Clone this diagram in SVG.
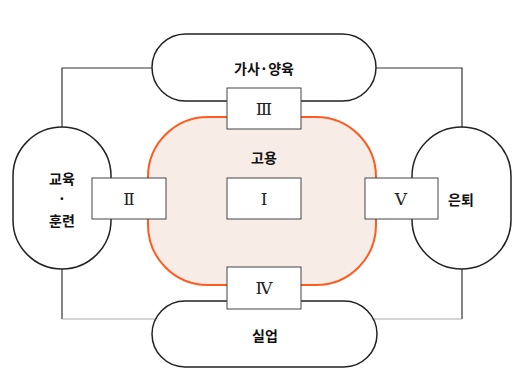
<svg xmlns="http://www.w3.org/2000/svg" width="526" height="389" viewBox="0 0 526 389">
<style>
.st{fill:#fff;stroke:#222;stroke-width:1.5}
.bx{fill:#fff;stroke:#444;stroke-width:1}
.ln{fill:none;stroke:#333;stroke-width:1.2}
.lg{fill:none;stroke:#aaa;stroke-width:1.2}
.kt{font-family:"Noto Sans CJK KR","Noto Sans",sans-serif;font-size:14px;font-weight:bold;fill:#111;text-anchor:middle;dominant-baseline:central}
.rn{font-family:"DejaVu Serif","Liberation Serif",serif;font-size:17px;fill:#222;text-anchor:middle;dominant-baseline:central}
</style>
<rect width="526" height="389" fill="#fff"/>
<g id="connectors">
<polyline class="ln" points="152,68 62,68 62,127"/>
<polyline class="ln" points="376,68 462,68 462,127"/>
<polyline class="ln" points="62,269 62,319"/>
<polyline class="lg" points="62,319 156,319"/>
<polyline class="ln" points="462,269 462,319"/>
<polyline class="lg" points="462,319 373,319"/>
</g>
<g id="employment">
<rect x="148" y="117" width="228" height="168" rx="60" ry="60" fill="#f7ede6" stroke="#ff5a1f" stroke-width="2"/>
<text class="kt" x="264" y="157">고용</text>
</g>
<g id="housework">
<rect class="st" x="152" y="34" width="224" height="67" rx="33.5" ry="33.5"/>
<text class="kt" x="264" y="68">가사·양육</text>
</g>
<g id="unemployment">
<rect class="st" x="152" y="301" width="225" height="66" rx="33" ry="33"/>
<text class="kt" x="265" y="335">실업</text>
</g>
<g id="education">
<rect class="st" x="13" y="127" width="98" height="142" rx="49" ry="49"/>
<text class="kt" x="62" y="178">교육</text>
<text class="kt" x="62" y="198">·</text>
<text class="kt" x="62" y="220">훈련</text>
</g>
<g id="retirement">
<rect class="st" x="412" y="127" width="99" height="142" rx="49.5" ry="49.5"/>
<text class="kt" x="461" y="199">은퇴</text>
</g>
<g id="box3">
<rect class="bx" x="227" y="88" width="74" height="41"/>
<text class="rn" x="264" y="109">Ⅲ</text>
</g>
<g id="box1">
<rect class="bx" x="227" y="178" width="74" height="41"/>
<text class="rn" x="264" y="199">Ⅰ</text>
</g>
<g id="box2">
<rect class="bx" x="92" y="178" width="74" height="41"/>
<text class="rn" x="129" y="199">Ⅱ</text>
</g>
<g id="box5">
<rect class="bx" x="365" y="178" width="73" height="41"/>
<text class="rn" x="401" y="199">Ⅴ</text>
</g>
<g id="box4">
<rect class="bx" x="227" y="267" width="74" height="42"/>
<text class="rn" x="264" y="288">Ⅳ</text>
</g>
</svg>
